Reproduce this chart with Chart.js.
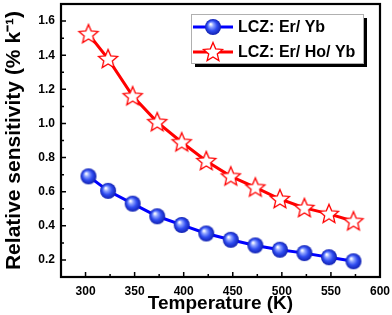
<!DOCTYPE html>
<html lang="en">
<head>
    <meta charset="UTF-8">
    <title>Relative sensitivity vs temperature</title>
    <style>
        html, body { margin: 0; padding: 0; background: #fff; }
        #wrap { width: 392px; height: 315px; position: relative; }
    </style>
</head>
<body>
    <div id="wrap"><canvas id="chart"></canvas></div>

    <script src="https://cdn.jsdelivr.net/npm/chart.js"></script>
    <script>
        // data
        const temps = [303, 323, 348, 373, 398, 423, 448, 473, 498, 523, 548, 573];
        const erYb = [0.69, 0.605, 0.53, 0.456, 0.405, 0.355, 0.318, 0.285, 0.26, 0.24, 0.216, 0.192];
        const erHoYb = [1.524, 1.378, 1.16, 1.008, 0.89, 0.78, 0.69, 0.625, 0.557, 0.505, 0.47, 0.427];
        const xTicks = [300, 350, 400, 450, 500, 550, 600];
        const yTicks = [0.2, 0.4, 0.6, 0.8, 1.0, 1.2, 1.4, 1.6];
        const seriesNames = ['LCZ: Er/ Yb', 'LCZ: Er/ Ho/ Yb'];

        const FONT = '"Liberation Sans", Arial, sans-serif';

        // blue shaded ball marker
        function makeBall(r) {
            const c = document.createElement('canvas');
            c.width = c.height = r * 2 + 2;
            const g = c.getContext('2d');
            const cx = r + 1, cy = r + 1;
            const grad = g.createRadialGradient(cx - r * 0.3, cy - r * 0.35, 0.5, cx, cy, r);
            grad.addColorStop(0, '#ffffff');
            grad.addColorStop(0.25, '#8fa4ff');
            grad.addColorStop(0.6, '#2f4cf0');
            grad.addColorStop(1, '#1020b0');
            g.fillStyle = grad;
            g.beginPath();
            g.arc(cx, cy, r, 0, Math.PI * 2);
            g.fill();
            return c;
        }

        // hollow red five point star
        function makeStar(r) {
            const c = document.createElement('canvas');
            c.width = c.height = r * 2 + 4;
            const g = c.getContext('2d');
            const cx = r + 2, cy = r + 2.5;
            g.beginPath();
            for (let i = 0; i < 10; i++) {
                const rad = i % 2 === 0 ? r : r * 0.45;
                const a = -Math.PI / 2 + i * Math.PI / 5;
                const px = cx + rad * Math.cos(a), py = cy + rad * Math.sin(a);
                if (i === 0) g.moveTo(px, py); else g.lineTo(px, py);
            }
            g.closePath();
            g.fillStyle = '#fff';
            g.fill();
            g.strokeStyle = '#ff0000';
            g.lineWidth = 1.3;
            g.stroke();
            return c;
        }

        const ball = makeBall(8);
        const star = makeStar(10);

        // frame, inward ticks and the boxed legend
        const framePlugin = {
            id: 'frame',
            afterDraw(chart) {
                const { ctx, chartArea: a, scales } = chart;
                ctx.save();
                ctx.strokeStyle = '#000';
                ctx.lineWidth = 2.2;
                ctx.strokeRect(a.left, a.top, a.right - a.left, a.bottom - a.top);
                ctx.lineWidth = 1.5;
                ctx.beginPath();
                for (let v = 300; v <= 600; v += 25) {
                    const x = scales.x.getPixelForValue(v);
                    const len = v % 50 === 0 ? 5 : 3;
                    ctx.moveTo(x, a.bottom);
                    ctx.lineTo(x, a.bottom - len);
                }
                for (let i = 2; i <= 17; i++) {
                    const y = scales.y.getPixelForValue(i / 10);
                    const len = i % 2 === 0 ? 5 : 3;
                    ctx.moveTo(a.left, y);
                    ctx.lineTo(a.left + len, y);
                }
                ctx.stroke();

                // legend
                const bx = 191, by = 14, bw = 172, bh = 49;
                ctx.fillStyle = '#000';
                ctx.fillRect(bx + 4, by + 4, bw, bh);
                ctx.fillStyle = '#fff';
                ctx.fillRect(bx, by, bw, bh);
                ctx.strokeStyle = '#b0b0b0';
                ctx.lineWidth = 1;
                ctx.strokeRect(bx + 0.5, by + 0.5, bw, bh);
                const rows = [
                    { y: 27, color: '#0000ff', img: ball },
                    { y: 52, color: '#ff0000', img: star }
                ];
                ctx.font = 'bold 16px ' + FONT;
                ctx.textBaseline = 'middle';
                rows.forEach((r, i) => {
                    ctx.strokeStyle = r.color;
                    ctx.lineWidth = 3;
                    ctx.beginPath();
                    ctx.moveTo(193, r.y);
                    ctx.lineTo(233, r.y);
                    ctx.stroke();
                    ctx.drawImage(r.img, 213 - r.img.width / 2, r.y - r.img.height / 2);
                    ctx.fillStyle = '#000';
                    ctx.fillText(seriesNames[i], 238, r.y + 1);
                });
                ctx.restore();
            }
        };

        const tickFont = { family: FONT, size: 12, weight: 'bold' };

        new Chart(document.getElementById('chart'), {
            type: 'line',
            data: {
                datasets: [
                    {
                        label: seriesNames[0],
                        data: temps.map((t, i) => ({ x: t, y: erYb[i] })),
                        borderColor: '#0000ff',
                        borderWidth: 3,
                        pointStyle: ball,
                        pointRadius: 8,
                        tension: 0
                    },
                    {
                        label: seriesNames[1],
                        data: temps.map((t, i) => ({ x: t, y: erHoYb[i] })),
                        borderColor: '#ff0000',
                        borderWidth: 3,
                        pointStyle: star,
                        pointRadius: 10,
                        tension: 0
                    }
                ]
            },
            options: {
                responsive: true,
                maintainAspectRatio: false,
                animation: false,
                layout: { autoPadding: false, padding: { top: 4, right: 12, left: 0, bottom: 0 } },
                plugins: { legend: { display: false }, tooltip: { enabled: false } },
                scales: {
                    x: {
                        type: 'linear',
                        min: 275,
                        max: 600,
                        afterBuildTicks: s => { s.ticks = xTicks.map(v => ({ value: v })); },
                        afterFit: s => { s.height = 38; s.paddingLeft = 0; s.paddingRight = 0; },
                        grid: { display: false, drawTicks: false },
                        border: { display: false },
                        ticks: { color: '#000', font: tickFont, padding: 7, maxRotation: 0 },
                        title: {
                            display: true,
                            text: 'Temperature (K)',
                            color: '#000',
                            font: { family: FONT, size: 19, weight: 'bold' },
                            padding: { top: -3, bottom: 0 }
                        }
                    },
                    y: {
                        min: 0.1,
                        max: 1.7,
                        afterBuildTicks: s => { s.ticks = yTicks.map(v => ({ value: v })); },
                        afterFit: s => { s.width = 61; s.paddingTop = 0; s.paddingBottom = 0; },
                        grid: { display: false, drawTicks: false },
                        border: { display: false },
                        ticks: { color: '#000', font: tickFont, padding: 6, callback: v => v.toFixed(1) },
                        title: {
                            display: true,
                            text: 'Relative sensitivity (% k\u207B\u00B9)',
                            color: '#000',
                            font: { family: FONT, size: 21, weight: 'bold' },
                            padding: { top: 2, bottom: 0 }
                        }
                    }
                }
            },
            plugins: [framePlugin]
        });
    </script>
</body>
</html>
